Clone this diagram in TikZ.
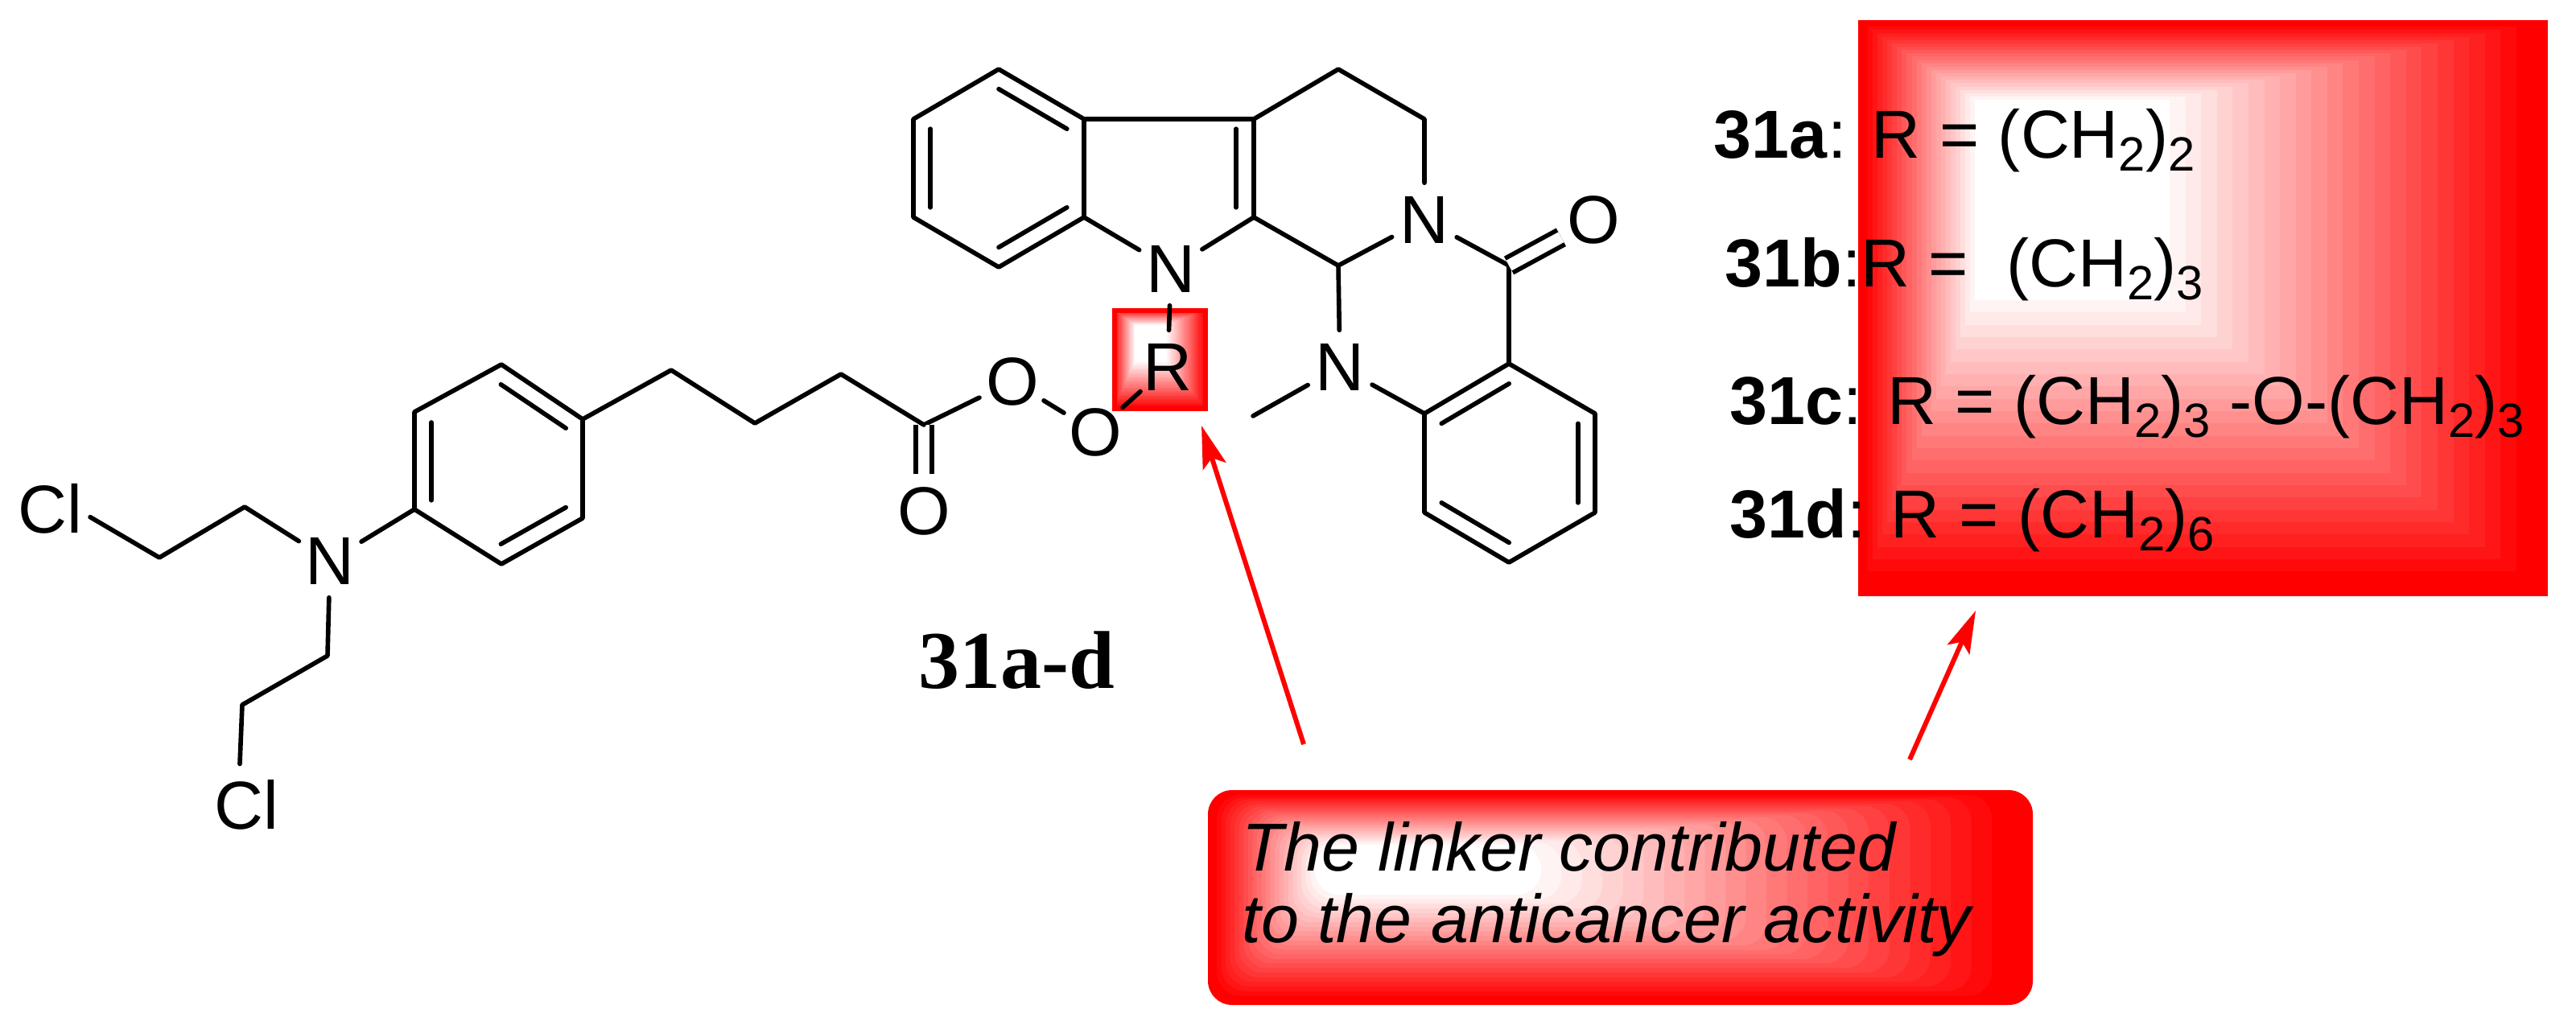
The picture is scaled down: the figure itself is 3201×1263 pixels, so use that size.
\documentclass[tikz,border=0pt]{standalone}
\usepackage{fontspec}
\setmainfont{Liberation Sans}
\newfontfamily\labelserif{Liberation Serif}
\usetikzlibrary{arrows.meta,calc}

\newcommand{\chemsub}[1]{\raisebox{-4.8pt}{\fontsize{17}{17}\selectfont #1}}
\newcommand{\innerbond}[3]{\draw[bond] ($(#1)!.2!(#3)$) -- ($(#2)!.2!(#3)$);}
% outer x0,y0,x1,y1 then inner x0,y0,x1,y1 then corner radius
\newcommand{\redpanel}[9]{%
  \foreach \k in {0,...,24}{
    \pgfmathsetmacro\xa{#1+(#5-#1)*\k/24}
    \pgfmathsetmacro\ya{#2+(#6-#2)*\k/24}
    \pgfmathsetmacro\xb{#3+(#7-#3)*\k/24}
    \pgfmathsetmacro\yb{#4+(#8-#4)*\k/24}
    \pgfmathsetmacro\pct{min(100,105-105*\k/24)}
    \fill[red!\pct!white,rounded corners=#9] (\xa,\ya) rectangle (\xb,\yb);
  }
}

\tikzset{
  bond/.style={line width=1.6pt,line cap=round,line join=round},
  dblbond/.style={bond,double,double distance=4.1pt,line cap=butt},
  atom/.style={circle,inner sep=0pt,minimum size=.9cm,font=\fontsize{24}{24}\selectfont},
  rowtext/.style={anchor=base west,inner sep=0pt,font=\fontsize{24}{24}\selectfont},
  pointer/.style={red,line width=1.7pt,-{Stealth[length=15pt,width=8.5pt,inset=3pt]}},
}

\begin{document}
\begin{tikzpicture}[x=.01cm,y=-.01cm]
  \useasboundingbox (0,0) rectangle (3201,1263);

  \redpanel{1382}{383}{1501}{511}{1410}{404}{1450}{450}{0pt}
  \draw[red,line width=1.7pt] (1385,386) rectangle (1498,508);
  \redpanel{2309}{25}{3166}{741}{2454}{124}{2696}{373}{0pt}
  \redpanel{1501}{982}{2526}{1249}{1634}{1050}{1915}{1112}{8.5pt}

  \coordinate (a1) at (1241,86);
  \coordinate (a2) at (1135,148);
  \coordinate (a3) at (1135,270);
  \coordinate (a4) at (1241,332);
  \coordinate (a5) at (1347,270);
  \coordinate (a6) at (1347,148);
  \coordinate (a7) at (1558,148);
  \coordinate (a8) at (1558,270);
  \coordinate (a9) at (1663,86);
  \coordinate (a10) at (1770,148);
  \coordinate (a11) at (1663,330);
  \coordinate (co) at (1875,330);
  \coordinate (a12) at (1875,452);
  \coordinate (a13) at (1770,514);
  \coordinate (a14) at (1770,637);
  \coordinate (a15) at (1875,699);
  \coordinate (a16) at (1982,637);
  \coordinate (a17) at (1982,514);
  \coordinate (me) at (1557,517);
  \coordinate (ringA) at (1241,209);
  \coordinate (ringB) at (1448,209);
  \coordinate (ringC) at (1876,576);

  \coordinate (p1) at (515,633);
  \coordinate (p2) at (515,512);
  \coordinate (p3) at (623,453);
  \coordinate (p4) at (724,521);
  \coordinate (p5) at (724,644);
  \coordinate (p6) at (623,701);
  \coordinate (ringD) at (620,577);
  \coordinate (c1) at (834,460);
  \coordinate (c2) at (938,526);
  \coordinate (c3) at (1045,465);
  \coordinate (c4) at (1148,528);
  \coordinate (e1) at (198,693);
  \coordinate (e2) at (304,630);
  \coordinate (e3) at (407,815);
  \coordinate (e4) at (301,876);

  \node[atom] (N1) at (1455,334) {N};
  \node[atom] (N2) at (1770,273) {N};
  \node[atom] (N3) at (1665,456) {N};
  \node[atom] (N4) at (410,697) {N};
  \node[atom] (O1) at (1980,273) {O};
  \node[atom] (O2) at (1258,474) {O};
  \node[atom] (O3) at (1361,537) {O};
  \node[atom] (O4) at (1148,635) {O};
  \node[atom] (Rg) at (1451,456) {R};
  \node[atom] (Cl1) at (62,632) {Cl};
  \node[atom] (Cl2) at (306,1000) {Cl};

  \draw[bond] (a1) -- (a2) -- (a3) -- (a4) -- (a5) -- (a6) -- cycle;
  \draw[bond] (a6) -- (a7) -- (a8) -- (N1) -- (a5);
  \draw[bond] (a7) -- (a9) -- (a10) -- (N2) -- (a11) -- (a8);
  \draw[bond] (a11) -- (N3) -- (a13);
  \draw[bond] (N2) -- (co) -- (a12);
  \draw[dblbond] (co) -- (O1);
  \draw[bond] (a12) -- (a13) -- (a14) -- (a15) -- (a16) -- (a17) -- cycle;
  \draw[bond] (N3) -- (me);
  \draw[bond] (N1) -- (Rg);
  \draw[bond] (Rg) -- (O3);
  \draw[bond] (O3) -- (O2);
  \draw[bond] (O2) -- (c4);
  \draw[dblbond] (c4) -- (O4);
  \draw[bond] (p1) -- (p2) -- (p3) -- (p4) -- (p5) -- (p6) -- cycle;
  \draw[bond] (p4) -- (c1) -- (c2) -- (c3) -- (c4);
  \draw[bond] (p1) -- (N4);
  \draw[bond] (N4) -- (e2) -- (e1) -- (Cl1.-12);
  \draw[bond] (N4) -- (e3) -- (e4) -- (Cl2.99);

  \innerbond{a1}{a6}{ringA}
  \innerbond{a2}{a3}{ringA}
  \innerbond{a4}{a5}{ringA}
  \innerbond{a7}{a8}{ringB}
  \innerbond{a12}{a13}{ringC}
  \innerbond{a14}{a15}{ringC}
  \innerbond{a16}{a17}{ringC}
  \innerbond{p1}{p2}{ringD}
  \innerbond{p3}{p4}{ringD}
  \innerbond{p5}{p6}{ringD}

  \node[anchor=base,inner sep=0pt,font=\labelserif\bfseries\fontsize{29}{29}\selectfont] (name31) at (1263,855) {31a-d};

  \node[rowtext] (row31a) at (2129,196) {\textbf{31a}: R = (CH\chemsub{2})\chemsub{2}};
  \node[rowtext] (row31b) at (2143,356) {\textbf{31b}:R =\ \ (CH\chemsub{2})\chemsub{3}};
  \node[rowtext] (row31c) at (2149,527) {\textbf{31c}: R = (CH\chemsub{2})\chemsub{3} -O-(CH\chemsub{2})\chemsub{3}};
  \node[rowtext] (row31d) at (2149,668) {\textbf{31d}: R = (CH\chemsub{2})\chemsub{6}};

  \node[anchor=west,inner sep=0pt,align=left,font=\itshape\fontsize{24}{25.3}\selectfont] (linker) at (1543,1105) {The linker contributed\\to the anticancer activity};

  \coordinate (tailA) at (1620,925);
  \coordinate (tipA) at (1493,529);
  \coordinate (tailB) at (2373,944);
  \coordinate (tipB) at (2455,759);
  \draw[pointer] (tailA) -- (tipA);
  \draw[pointer] (tailB) -- (tipB);
\end{tikzpicture}
\end{document}
